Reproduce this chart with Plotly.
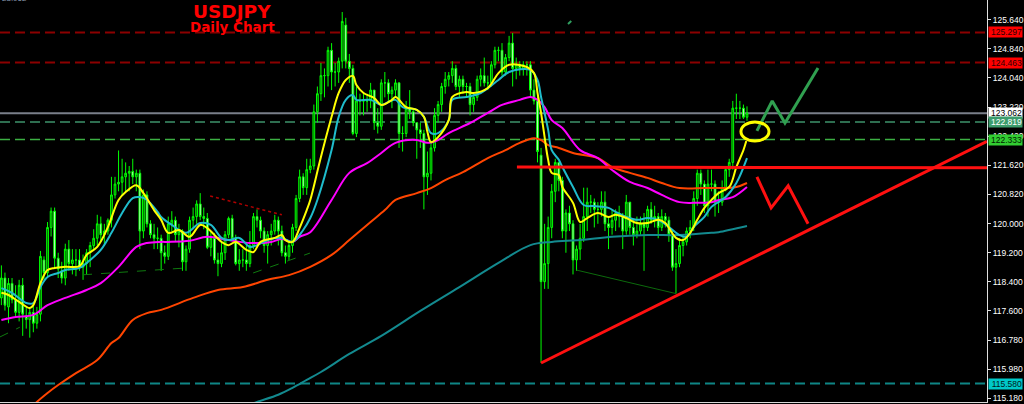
import plotly.graph_objects as go

# ---------------- data (USDJPY daily) ----------------
opens = [117.95,118.50,117.70,118.35,117.90,117.55,118.30,117.45,117.35,117.55,117.25,
         117.50,119.00,118.65,119.90,120.35,119.05,118.70,118.50,119.30,118.90,
         119.00,119.00,118.80,118.90,119.20,119.40,119.60,120.00,119.70,119.80,
         120.10,120.80,121.10,121.15,121.30,121.40,121.45,121.30,121.40,119.80,
         120.80,120.00,119.70,119.60,119.60,119.20,119.10,120.00,120.10,119.70,
         119.80,118.95,119.30,120.10,120.20,120.55,120.20,120.15,119.35,119.60,
         119.00,118.90,119.20,119.70,120.15,119.60,118.90,119.00,119.00,118.90,
         119.40,120.20,120.10,119.80,119.40,119.70,119.80,120.10,119.80,119.20,
         119.10,119.40,119.90,120.70,121.30,121.00,121.50,121.60,123.10,123.60,
         124.10,124.10,124.80,124.20,124.20,124.50,125.50,124.50,124.30,122.50,
         123.40,123.40,123.40,123.40,123.70,122.80,122.70,123.90,123.90,123.60,
         123.70,123.90,122.50,122.50,123.20,123.10,122.80,122.60,122.50,121.30,
         121.40,122.10,123.00,123.30,123.80,124.00,124.10,124.30,123.80,124.00,
         123.80,123.80,123.30,123.50,124.00,124.10,123.90,123.90,124.40,124.80,
         124.80,124.20,124.60,125.00,124.30,124.40,124.30,124.40,124.40,123.70,
         123.40,121.90,118.40,118.90,119.90,120.90,121.70,121.20,119.80,120.30,
         120.00,119.00,119.30,119.60,120.20,120.60,120.60,120.40,120.40,120.60,
         120.00,119.90,120.10,120.30,120.20,119.80,120.60,119.90,119.70,119.80,
         120.00,119.90,120.40,120.10,120.20,119.90,120.20,120.10,119.70,118.80,
         118.90,119.40,119.50,119.80,119.90,120.70,121.40,121.10,120.50,121.10,
         121.10,120.60,120.60,121.00,121.50,121.70,123.20,123.20,123.20,122.95]
highs = [118.85,118.65,118.50,118.50,118.30,118.45,118.50,117.70,117.70,117.75,117.70,
         119.25,119.10,120.05,120.45,120.45,119.20,118.95,119.45,119.55,119.30,
         119.30,119.30,119.15,119.30,119.50,119.85,120.25,120.20,120.00,120.15,
         121.30,121.30,122.03,121.80,121.70,121.60,121.80,121.50,121.50,120.95,
         120.90,120.10,120.00,119.90,119.70,119.40,120.20,120.35,120.20,120.00,
         119.85,119.40,120.20,120.45,120.65,120.85,120.45,120.30,119.80,119.75,
         119.20,119.50,119.80,120.20,120.25,119.70,119.30,119.30,119.50,119.80,
         120.30,120.40,120.20,119.90,119.80,120.00,120.25,120.20,119.95,119.40,
         119.50,120.00,120.80,121.50,121.40,121.80,121.80,123.30,123.80,124.45,
         124.30,124.90,125.00,124.45,124.60,125.86,125.70,124.70,124.40,123.80,
         123.60,123.60,123.60,123.90,123.70,123.20,124.00,124.20,124.00,123.80,
         124.00,123.90,122.70,123.40,123.70,123.20,122.80,122.80,122.60,122.00,
         122.30,123.20,123.40,123.90,124.20,124.20,124.50,124.40,124.10,124.10,
         123.90,123.90,123.60,124.10,124.30,124.60,124.10,124.50,124.90,124.90,
         125.00,124.70,125.20,125.28,124.60,124.50,124.50,124.50,124.50,124.00,
         123.60,122.10,120.00,120.20,121.10,121.80,121.70,121.30,120.40,120.50,
         120.10,119.40,120.00,121.00,121.00,120.80,120.70,120.60,120.90,120.90,
         120.20,120.40,120.40,120.50,120.30,120.80,120.60,120.10,120.20,120.20,
         120.30,120.50,120.60,120.50,120.30,120.40,120.30,120.20,119.80,119.30,
         119.60,119.70,119.90,120.10,120.90,121.50,121.50,121.20,121.50,121.50,
         121.20,120.90,121.20,121.60,121.80,123.40,123.60,123.40,123.30,123.25]
lows = [117.75,117.60,117.25,117.80,117.40,117.30,116.90,117.10,116.85,117.00,117.10,
        117.30,118.45,118.55,119.65,118.80,118.50,118.35,118.30,118.70,118.60,
        118.55,118.70,118.45,118.60,118.80,119.30,119.40,119.50,119.40,119.70,
        119.90,120.70,120.90,120.80,120.90,120.90,121.10,120.90,119.30,119.60,
        119.90,119.60,119.30,119.30,118.70,118.90,119.00,119.80,119.50,119.35,
        118.70,118.70,119.20,119.85,120.00,120.10,119.85,119.30,119.10,118.90,
        118.55,118.80,119.00,119.60,119.55,118.85,118.70,118.80,118.70,118.80,
        119.30,119.90,119.60,119.20,118.90,119.40,119.70,119.40,119.10,118.90,
        119.00,119.20,119.80,120.60,120.80,120.80,121.40,121.50,122.80,123.40,
        123.50,123.80,123.70,123.80,123.90,124.30,124.30,123.90,122.45,122.40,
        123.00,123.00,123.10,123.20,122.60,122.50,122.60,123.50,123.40,123.20,
        123.50,122.10,122.00,122.40,122.90,122.70,121.80,122.10,120.40,120.80,
        121.20,122.00,122.80,123.10,123.60,123.80,123.90,123.70,123.50,123.60,
        123.50,123.00,123.10,123.40,123.80,123.80,123.70,123.80,124.30,124.50,
        124.10,124.10,124.50,123.80,124.00,124.10,124.10,124.10,123.50,123.30,
        121.70,116.15,118.20,118.20,119.60,120.60,120.90,119.60,119.20,119.80,
        118.60,118.70,119.00,119.50,119.80,120.30,119.90,120.00,120.20,119.80,
        119.30,119.70,119.80,119.90,119.30,119.70,119.70,119.40,119.60,119.70,
        118.70,119.80,120.00,119.90,119.60,119.80,119.90,119.50,118.70,118.07,
        118.80,119.10,119.40,119.60,119.80,120.50,120.80,120.30,120.20,120.90,
        120.20,120.30,120.50,120.90,121.30,121.50,122.90,122.90,122.90,122.85]
closes = [118.50,117.75,118.35,117.90,117.55,118.30,117.50,117.35,117.55,117.25,117.50,
          119.10,118.65,119.90,120.35,119.05,118.75,118.50,119.30,118.90,119.00,
          119.00,118.80,118.90,119.20,119.40,119.60,120.00,119.70,119.80,120.10,
          120.80,121.10,121.15,121.30,121.40,121.45,121.30,121.40,119.80,120.80,
          120.00,119.70,119.60,119.60,119.20,119.10,120.00,120.10,119.70,119.80,
          118.95,119.30,120.10,120.20,120.55,120.20,120.15,119.35,119.60,119.00,
          118.90,119.20,119.70,120.15,119.60,118.90,119.00,119.00,118.90,119.40,
          120.20,120.10,119.80,119.40,119.70,119.80,120.10,119.80,119.20,119.10,
          119.40,119.90,120.70,121.30,121.00,121.50,121.60,123.10,123.60,124.10,
          124.10,124.80,124.20,124.20,124.50,125.60,124.50,124.30,122.50,123.40,
          123.40,123.40,123.40,123.70,122.80,122.70,123.90,123.90,123.60,123.70,
          123.90,122.50,122.50,123.20,123.10,122.80,122.60,122.50,121.30,121.40,
          122.10,123.00,123.30,123.80,124.00,124.10,124.30,123.80,124.00,123.80,
          123.80,123.30,123.50,124.00,124.10,123.90,123.90,124.40,124.80,124.80,
          124.20,124.60,125.00,124.30,124.40,124.30,124.40,124.40,123.70,123.40,
          122.00,118.40,118.90,119.90,120.90,121.70,121.20,119.80,120.30,120.00,
          119.00,119.30,119.60,120.20,120.60,120.60,120.40,120.40,120.60,120.00,
          119.90,120.10,120.30,120.20,119.80,120.60,119.90,119.70,119.80,120.00,
          119.90,120.40,120.10,120.20,119.90,120.20,120.10,119.70,118.80,118.90,
          119.40,119.50,119.80,119.90,120.70,121.40,121.10,120.50,121.10,121.10,
          120.60,120.60,121.00,121.50,121.70,123.20,123.20,123.20,122.95,123.06]
days = list(range(len(closes)))

# moving averages (day index, price)
yellow_x = [0,2,5,8,9,11,13,15,18,22,24,27,30,33,35,38,40,43,45,47,50,53,56,58,62,64,66,69,71,73,
            77,79,80,82,84,86,87,90,93,95,97,99,100,102,105,107,110,111,114,117,119,120,121,123,126,127,
            131,133,137,140,143,148,150,151,152,153,154,155,157,158,161,163,165,168,171,173,176,179,182,185,
            187,190,192,194,196,198,200,202,205,207,209,209.8]
yellow_y = [118.09,118.03,117.84,117.67,117.75,118.36,118.72,118.78,118.81,118.83,
            119.14,119.36,119.91,120.66,120.88,121.07,120.85,120.38,120.11,119.75,
            119.83,119.64,119.97,119.88,119.50,119.41,119.50,119.28,119.22,119.50,
            119.61,119.69,119.55,119.50,119.89,120.38,120.66,121.85,122.96,123.62,
            123.98,124.09,123.84,123.62,123.48,123.29,123.43,123.51,123.23,123.15,
            122.96,122.54,122.26,122.40,122.87,123.51,123.65,123.62,123.76,124.17,
            124.40,124.34,124.17,123.62,123.07,122.40,121.77,121.41,121.35,121.02,
            120.58,120.05,120.16,120.30,120.19,120.25,120.16,120.02,120.02,120.11,
            120.02,119.61,119.55,119.75,120.11,120.44,120.66,120.85,121.02,121.57,
            122.04,122.29]
cyan_x = [0,3,7,9,11,13,16,18,22,25,28,31,34,37,39,41,44,45,48,52,56,59,62,64,67,70,72,75,79,82,
          85,87,89,93,95,97,99,100,104,107,109,111,113,117,119,121,123,126,127,131,135,140,143,149,151,152,
          154,155,157,158,161,164,167,171,173,176,179,182,185,188,191,193,195,198,200,204,207,210]
cyan_y = [118.22,118.09,117.81,117.81,118.25,118.53,118.64,118.72,118.78,119.00,
          119.28,119.75,120.30,120.71,120.74,120.66,120.33,120.19,119.97,119.75,
          120.02,119.97,119.61,119.55,119.61,119.36,119.41,119.55,119.61,119.50,
          119.83,120.16,120.66,122.04,122.96,123.43,123.56,123.43,123.43,123.29,
          123.37,123.43,123.23,123.15,122.96,122.51,122.51,122.87,123.43,123.51,
          123.62,123.98,124.20,124.26,123.98,123.51,122.60,122.04,121.77,121.57,
          121.02,120.52,120.49,120.44,120.33,120.19,120.11,120.16,120.11,119.91,
          119.69,119.64,119.91,120.19,120.47,120.74,121.13,121.82]
magenta_x = [0,4,9,13,18,24,28,33,38,41,45,47,53,58,64,70,76,79,82,84,87,93,98,103,107,111,117,120,
             123,126,132,137,141,146,149,151,153,155,158,163,168,172,177,182,186,191,195,200,202,206,210]
magenta_y = [117.34,117.42,117.48,117.75,117.95,118.17,118.36,118.81,119.36,119.47,
             119.50,119.50,119.53,119.64,119.55,119.47,119.50,119.58,119.50,119.64,
             119.77,120.66,121.41,121.68,121.96,122.24,122.32,122.24,122.32,122.51,
             122.79,123.07,123.29,123.43,123.51,123.43,123.23,122.87,122.65,122.04,
             121.82,121.49,121.16,120.99,120.80,120.60,120.58,120.60,120.66,120.74,
             121.02]
orange_x = [8,10,13,16,21,27,31,33,37,41,45,54,61,68,75,81,87,93,98,104,108,111,117,121,125,130,
            137,142,146,150,152,154,157,161,168,172,177,182,186,191,198,202,207,210]
orange_y = [114.85,115.07,115.32,115.54,115.87,116.23,116.70,116.84,117.34,117.53,
            117.62,117.95,118.17,118.25,118.45,118.58,118.81,119.14,119.55,120.05,
            120.38,120.66,120.85,120.99,121.21,121.43,121.82,122.04,122.24,122.37,
            122.32,122.18,122.10,121.96,121.82,121.57,121.41,121.27,121.13,120.99,
            120.99,120.99,121.02,121.13]
teal_x = [70,72,78,82,86,90,98,107,118,129,140,149,155,163,172,182,191,200,202,210]
teal_y = [114.99,115.07,115.27,115.46,115.68,115.90,116.40,116.90,117.59,118.25,
          118.92,119.41,119.50,119.55,119.64,119.69,119.69,119.75,119.77,119.94]

# price levels drawn across the chart
level_prices = [125.297, 124.463, 123.062, 122.819, 122.333, 115.580]
level_labels = ["125.297", "124.463", "123.062", "122.819", "122.333", "115.580"]

# drawn objects (day index, price)
trend_x = [152, 277.6]
trend_y = [116.15, 122.28]
resist_x = [145.2, 277.6]
resist_y = [121.57, 121.55]
red_zig_x = [212.8, 216.8, 221.6, 227.2]
red_zig_y = [121.30, 120.44, 121.05, 120.00]
green_zig_x = [212.8, 217.1, 220.7, 230.0]
green_zig_y = [122.57, 123.40, 122.79, 124.31]
ellipse_x = [208.3, 216.2]
ellipse_y = [122.29, 122.82]
low_line_x = [162, 190]
low_line_y = [118.72, 118.07]
red_dot_x = [58.8, 79.0]
red_dot_y = [120.77, 120.25]
green_dot1_x = [-0.4, 5.2]
green_dot1_y = [116.87, 117.14]
green_dot2_x = [23.0, 52.3]
green_dot2_y = [118.59, 118.78]
green_dot3_x = [70.9, 86.9]
green_dot3_y = [118.64, 119.19]
tick_mark_x = [159.6, 160.5]
tick_mark_y = [125.53, 125.61]

y_ticks = [125.64, 124.84, 124.04, 123.22, 122.42, 121.62, 120.82,
           120.00, 119.20, 118.40, 117.60, 116.78, 115.98, 115.18]

# ---------------- figure ----------------
fig = go.Figure()

fig.add_trace(go.Candlestick(
    x=days, open=opens, high=highs, low=lows, close=closes,
    increasing=dict(line=dict(color="#00ff00", width=1), fillcolor="#005a00"),
    decreasing=dict(line=dict(color="#00ff00", width=1), fillcolor="#e8ffe8"),
    whiskerwidth=0, hoverinfo="skip", showlegend=False))

def add_line(xs, ys, color, width, dash=None, shape="linear"):
    fig.add_trace(go.Scatter(x=xs, y=ys, mode="lines",
                             line=dict(color=color, width=width, dash=dash, shape=shape),
                             hoverinfo="skip", showlegend=False))

add_line(green_dot1_x, green_dot1_y, "#0f7a0f", 1, "dash")
add_line(green_dot2_x, green_dot2_y, "#0f7a0f", 1, "dash")
add_line(green_dot3_x, green_dot3_y, "#0f7a0f", 1, "dash")
add_line(red_dot_x, red_dot_y, "#b00000", 1.5, "dot")
add_line(low_line_x, low_line_y, "#0c6a0c", 1)

add_line(teal_x, teal_y, "#138a8f", 2, shape="spline")
add_line(orange_x, orange_y, "#ff4500", 2, shape="spline")
add_line(magenta_x, magenta_y, "#ff00ff", 2, shape="spline")
add_line(cyan_x, cyan_y, "#1fbccc", 2, shape="spline")
add_line(yellow_x, yellow_y, "#ffff00", 2, shape="spline")

add_line(resist_x, resist_y, "#ff1010", 3)
add_line(trend_x, trend_y, "#ff1010", 3)
add_line(red_zig_x, red_zig_y, "#ff1010", 3)
add_line(green_zig_x, green_zig_y, "#30a050", 3)
add_line(tick_mark_x, tick_mark_y, "#30a060", 2)

fig.add_shape(type="circle", xref="x", yref="y",
              x0=ellipse_x[0], x1=ellipse_x[1], y0=ellipse_y[0], y1=ellipse_y[1],
              line=dict(color="#ffff00", width=3))

level_styles = [("#8b0000", 2, "10px,5px"), ("#8b0000", 2, "10px,5px"),
                ("#7a7f8a", 2, "solid"), ("#2e6e50", 2, "10px,5px"),
                ("#3cb043", 1.5, "10px,5px"), ("#0e8585", 2, "10px,5px")]
for p, (c, w, d) in zip(level_prices, level_styles):
    fig.add_shape(type="line", xref="paper", yref="y", x0=0, x1=1, y0=p, y1=p,
                  line=dict(color=c, width=w, dash=d), layer="below")

box_styles = [("#ff0000", "#300000"), ("#ff0000", "#300000"), ("#ffffff", "#000000"),
              ("#3c9c6c", "#ffffff"), ("#32cd32", "#002000"), ("#00c8c8", "#002020")]
for p, t, (bg, fc) in zip(level_prices, level_labels, box_styles):
    fig.add_annotation(xref="paper", yref="y", x=1, y=p, text=t, showarrow=False,
                       xanchor="left", yanchor="middle", xshift=1,
                       width=33, align="right",
                       bgcolor=bg, borderpad=0,
                       font=dict(family="Liberation Sans", size=8.5, color=fc))

fig.add_annotation(xref="paper", yref="paper", x=232/987, y=1-11.5/402, text="<b>USDJPY</b>",
                   showarrow=False, xanchor="center", yanchor="middle",
                   font=dict(family="DejaVu Sans", size=18.5, color="#ff0000"))
fig.add_annotation(xref="paper", yref="paper", x=232/987, y=1-27/402, text="<b>Daily Chart</b>",
                   showarrow=False, xanchor="center", yanchor="middle",
                   font=dict(family="DejaVu Sans", size=13.5, color="#ff0000"))
fig.add_annotation(xref="paper", yref="paper", x=0, y=1, text="23.062",
                   showarrow=False, xanchor="left", yanchor="middle", yshift=2,
                   font=dict(family="Liberation Sans", size=8, color="#8a9ab0"))

fig.update_layout(
    width=1024, height=404,
    margin=dict(l=0, r=37, t=0, b=2),
    paper_bgcolor="#000000", plot_bgcolor="#000000",
    showlegend=False,
    xaxis=dict(range=[-0.39, 277.6], showgrid=False, zeroline=False, showticklabels=False,
               ticks="", showline=True, linecolor="#d8d8d8", linewidth=1,
               rangeslider=dict(visible=False), fixedrange=True, automargin=False),
    yaxis=dict(side="right", range=[115.07, 126.193], showgrid=False, zeroline=False,
               tickvals=y_ticks, ticktext=[f"{v:.3f}" for v in y_ticks],
               ticks="outside", ticklen=3, tickcolor="#e0e0e0",
               tickfont=dict(family="Liberation Sans", size=8.5, color="#ffffff"),
               showline=True, linecolor="#e0e0e0", linewidth=1, fixedrange=True,
               automargin=False),
)

fig.write_html("out.html", config={"displayModeBar": False},
               post_script="document.body.style.margin='0px';document.body.style.background='#000';")
